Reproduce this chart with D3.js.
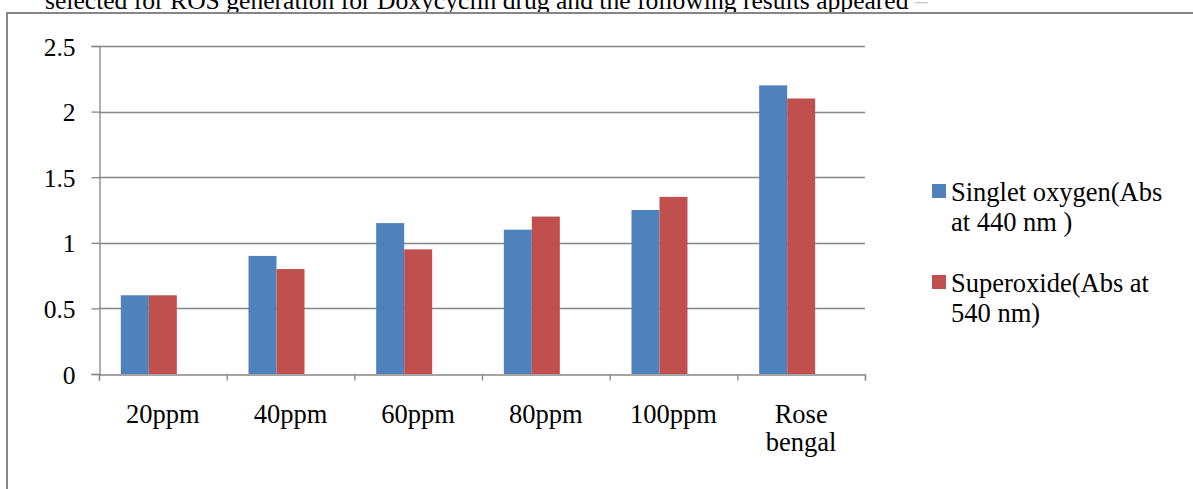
<!DOCTYPE html>
<html>
<head>
<meta charset="utf-8">
<script src="https://cdn.jsdelivr.net/npm/d3@7"></script>
<style>
  html, body { margin: 0; padding: 0; background: #fff; }
  svg { display: block; }
  text { font-family: "Liberation Serif", "Times New Roman", serif; fill: #000; }
</style>
</head>
<body>
<svg id="chart" width="1193" height="489"></svg>
<script>
const categories = ["20ppm", "40ppm", "60ppm", "80ppm", "100ppm", "Rose bengal"];
const seriesNames = ["Singlet oxygen(Abs at 440 nm )", "Superoxide(Abs at 540 nm)"];
const singletOxygen = [0.6, 0.9, 1.15, 1.1, 1.25, 2.2];
const superoxide = [0.6, 0.8, 0.95, 1.2, 1.35, 2.1];
const yTicks = [0, 0.5, 1, 1.5, 2, 2.5];
const colors = ["#4F81BD", "#C0504D"];
const legendLines = [["Singlet oxygen(Abs", "at 440 nm )"], ["Superoxide(Abs at", "540 nm)"]];
const xLabelLines = [["20ppm"], ["40ppm"], ["60ppm"], ["80ppm"], ["100ppm"], ["Rose", "bengal"]];
const headerText = "selected for ROS generation for Doxycyclin drug and the following results appeared";

(function () {
const series = [singletOxygen, superoxide];
const svg = d3.select("#chart");
const grey = "#868686";
const serif = "'Liberation Serif', 'Times New Roman', serif";

// header line of surrounding document (cut off at top)
const ht = svg.append("text").attr("x", 45).attr("y", 9)
  .style("font-family", serif).style("font-size", "25.6px");
ht.append("tspan").text(headerText);
ht.append("tspan").style("fill", "#c8c8c8").text(" –");

// chart frame
svg.append("rect").attr("x", 7).attr("y", 13).attr("width", 1300).attr("height", 600)
  .attr("fill", "none").attr("stroke", grey).attr("stroke-width", 2);

const pLeft = 99, pRight = 865, pTop = 46, pBottom = 374;
const x0 = d3.scaleBand().domain(categories).range([pLeft, pRight]).padding(0);
// three slots per category (Excel leaves room for an empty third series)
const x1 = d3.scaleBand().domain([0, 1, 2]).range([0, x0.bandwidth()]).paddingOuter(0.78).paddingInner(0);
const y = d3.scaleLinear().domain([0, 2.5]).range([pBottom, pTop]);

// gridlines
svg.append("g").selectAll("line").data(yTicks.filter(d => d > 0)).join("line")
  .attr("x1", pLeft).attr("x2", pRight)
  .attr("y1", d => Math.round(y(d)) + 0.5).attr("y2", d => Math.round(y(d)) + 0.5)
  .attr("stroke", grey).attr("stroke-width", 1.3);

// bars
categories.forEach((c, i) => {
  series.forEach((s, j) => {
    svg.append("rect")
      .attr("x", x0(c) + x1(j))
      .attr("y", y(s[i]))
      .attr("width", x1.bandwidth())
      .attr("height", y(0) - y(s[i]))
      .attr("fill", colors[j]);
  });
});

// y axis
const yAxis = d3.axisLeft(y).tickValues(yTicks).tickSize(8).tickPadding(16).tickFormat(d3.format("~g"));
const gy = svg.append("g").attr("transform", `translate(${pLeft + 0.5},0)`).call(yAxis);
gy.attr("font-family", null).attr("font-size", null);
gy.select(".domain").attr("stroke", grey).attr("stroke-width", 1.3);
gy.selectAll(".tick line").attr("stroke", grey).attr("stroke-width", 1.3);
gy.selectAll(".tick text").style("font-size", "25.5px").attr("fill", "#000")
  .style("font-family", serif).attr("dy", "0.36em");

// x axis
const xAxisScale = d3.scaleLinear().domain([0, categories.length]).range([pLeft, pRight]);
const xAxis = d3.axisBottom(xAxisScale).tickValues(d3.range(categories.length + 1)).tickSize(6).tickFormat("");
const gx = svg.append("g").attr("transform", `translate(0,${pBottom + 0.5})`).call(xAxis);
gx.select(".domain").attr("stroke", grey).attr("stroke-width", 1.3);
gx.selectAll(".tick line").attr("stroke", grey).attr("stroke-width", 1.3);

// x category labels
categories.forEach((c, i) => {
  const t = svg.append("text").attr("text-anchor", "middle")
    .style("font-family", serif).style("font-size", "26.5px");
  xLabelLines[i].forEach((ln, k) => {
    t.append("tspan").attr("x", x0(c) + x0.bandwidth() / 2).attr("y", 423 + k * 28).text(ln);
  });
});

// legend
const legendY = [184, 275];
seriesNames.forEach((n, j) => {
  svg.append("rect").attr("x", 932).attr("y", legendY[j]).attr("width", 14).attr("height", 14).attr("fill", colors[j]);
  const t = svg.append("text").style("font-family", serif).style("font-size", "26.5px");
  legendLines[j].forEach((ln, k) => {
    t.append("tspan").attr("x", 951).attr("y", legendY[j] + 17 + k * 30).text(ln);
  });
});
})();
</script>
</body>
</html>
